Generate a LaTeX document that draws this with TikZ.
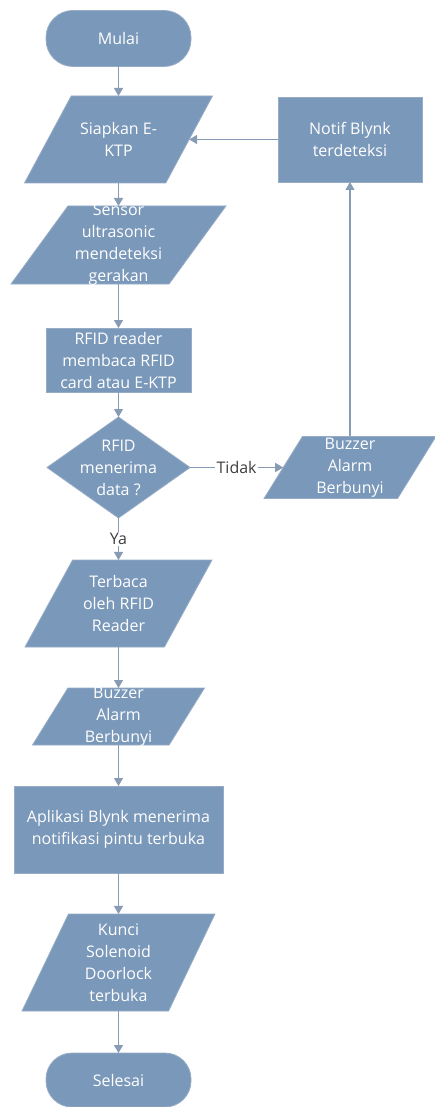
\documentclass[tikz,border=0pt]{standalone}
\usepackage{fontspec}
\setmainfont{Open Sans}
\usetikzlibrary{shapes.geometric,arrows.meta}
\definecolor{boxfill}{RGB}{122,152,185}
\definecolor{boxline}{RGB}{150,172,198}
\definecolor{arr}{RGB}{135,155,180}
\begin{document}
\begin{tikzpicture}[x=1pt,y=-1pt,
  base/.style={fill=boxfill, draw=boxline, line width=0.8pt, inner sep=0pt, outer sep=0pt},
  txt/.style={text=white, align=center, font=\fontsize{16}{22}\selectfont, inner sep=0pt},
  term/.style={base, rectangle, rounded corners=27pt, minimum width=145pt, minimum height=56pt},
  proc/.style={base, rectangle},
  io/.style={base, trapezium, trapezium stretches=true, inner sep=2pt},
  dec/.style={base, diamond, inner sep=2pt},
  lab/.style={label={[txt]center:{#1}}},
  flow/.style={draw=arr, line width=1.3pt, -{Triangle[length=8pt,width=9pt]}},
  edgelab/.style={fill=white, text=black!75, font=\fontsize{16}{18}\selectfont, inner sep=1.5pt}
]
\useasboundingbox (0,0) rectangle (435,1107);

\node[term, lab=Mulai] (start) at (118.5,38.5) {};
\node[io, trapezium left angle=63.7, trapezium right angle=116.3, minimum width=188pt, minimum height=87pt, lab={Siapkan E-\\KTP}] (siap) at (118.5,139.5) {};
\node[proc, minimum width=144pt, minimum height=85pt, lab={Notif Blynk\\terdeteksi}] (notif) at (350,139.5) {};
\node[io, trapezium left angle=60.6, trapezium right angle=119.4, minimum width=215pt, minimum height=78pt, lab={Sensor\\ultrasonic\\mendeteksi\\gerakan}] (sensor) at (118.5,245) {};
\node[proc, minimum width=145pt, minimum height=64pt, lab={RFID reader\\membaca RFID\\card atau E-KTP}] (rfid) at (118.5,360) {};
\node[dec, minimum width=143pt, minimum height=101pt, lab={RFID\\menerima\\data ?}] (dec) at (118.5,467.5) {};
\node[io, trapezium left angle=68, trapezium right angle=112, minimum width=172pt, minimum height=62pt, lab={Buzzer\\Alarm\\Berbunyi}] (buz1) at (350,467.5) {};
\node[io, trapezium left angle=62.6, trapezium right angle=117.4, minimum width=187pt, minimum height=87pt, lab={Terbaca\\oleh RFID\\Reader}] (baca) at (118.5,603.5) {};
\node[io, trapezium left angle=70.7, trapezium right angle=109.3, minimum width=172pt, minimum height=57pt, lab={Buzzer\\Alarm\\Berbunyi}] (buz2) at (118.5,716.5) {};
\node[proc, minimum width=209pt, minimum height=87pt, lab={Aplikasi Blynk menerima\\notifikasi pintu terbuka}] (app) at (118.5,829.5) {};
\node[io, trapezium left angle=65.1, trapezium right angle=114.9, minimum width=193pt, minimum height=97pt, lab={Kunci\\Solenoid\\Doorlock\\terbuka}] (kunci) at (118.5,962.5) {};
\node[term, minimum height=54pt, rounded corners=26pt, lab=Selesai] (end) at (118.5,1080) {};

\draw[flow] (start) -- (siap);
\draw[flow] (siap) -- (sensor);
\draw[flow] (sensor) -- (rfid);
\draw[flow] (rfid) -- (dec);
\draw[flow] (dec) -- node[edgelab]{Tidak} (buz1);
\draw[flow] (buz1) -- (notif);
\draw[flow] (notif) -- (siap);
\draw[flow] (dec) -- node[edgelab]{Ya} (baca);
\draw[flow] (baca) -- (buz2);
\draw[flow] (buz2) -- (app);
\draw[flow] (app) -- (kunci);
\draw[flow] (kunci) -- (end);
\end{tikzpicture}
\end{document}
